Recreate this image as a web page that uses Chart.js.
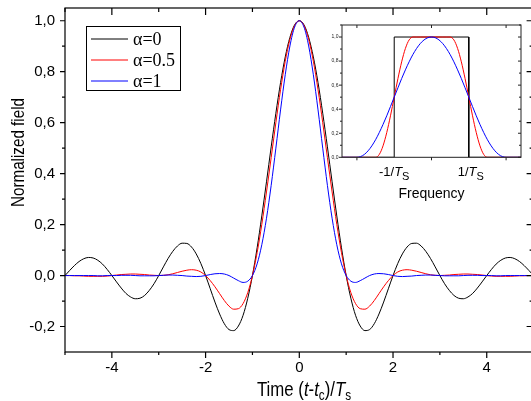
<!DOCTYPE html>
<html>
<head>
<meta charset="utf-8">
<script src="https://cdn.jsdelivr.net/npm/chart.js@4.4.0/dist/chart.umd.min.js"></script>
<style>
html, body { margin: 0; padding: 0; background: #fff; overflow: hidden; width: 531px; height: 401px; }
#wrap { position: relative; width: 531px; height: 401px; overflow: hidden; }
#main { position: absolute; left: 0; top: 0; }
#inset { position: absolute; left: 320px; top: 10px; }
</style>
</head>
<body>
<div id="wrap">
  <canvas id="main" width="545" height="401"></canvas>
  <canvas id="inset" width="211" height="195"></canvas>
</div>
<script>
// time axis (t-tc)/Ts
var times = [-5.0,-4.9,-4.8,-4.7,-4.6,-4.5,-4.4,-4.3,-4.2,-4.1,
  -4.0,-3.9,-3.8,-3.7,-3.6,-3.5,-3.4,-3.3,-3.2,-3.1,
  -3.0,-2.9,-2.8,-2.7,-2.6,-2.5,-2.4,-2.3,-2.2,-2.1,
  -2.0,-1.9,-1.8,-1.7,-1.6,-1.5,-1.4,-1.3,-1.2,-1.1,
  -1.0,-0.9,-0.8,-0.7,-0.6,-0.5,-0.4,-0.3,-0.2,-0.1,
  0.0,
  0.1,0.2,0.3,0.4,0.5,0.6,0.7,0.8,0.9,1.0,
  1.1,1.2,1.3,1.4,1.5,1.6,1.7,1.8,1.9,2.0,
  2.1,2.2,2.3,2.4,2.5,2.6,2.7,2.8,2.9,3.0,
  3.1,3.2,3.3,3.4,3.5,3.6,3.7,3.8,3.9,4.0,
  4.1,4.2,4.3,4.4,4.5,4.6,4.7,4.8,4.9,5.0];

var field0 = [0.000,0.020,0.039,0.055,0.066,0.071,0.069,0.060,0.045,0.024,
  0.000,-0.025,-0.049,-0.070,-0.084,-0.091,-0.089,-0.078,-0.058,-0.032,
  0.000,0.034,0.067,0.095,0.116,0.127,0.126,0.112,0.085,0.047,
  0.000,-0.052,-0.104,-0.151,-0.189,-0.212,-0.216,-0.198,-0.156,-0.089,
  0.000,0.109,0.234,0.368,0.505,0.637,0.757,0.858,0.935,0.984,
  1.000,
  0.984,0.935,0.858,0.757,0.637,0.505,0.368,0.234,0.109,0.000,
  -0.089,-0.156,-0.198,-0.216,-0.212,-0.189,-0.151,-0.104,-0.052,0.000,
  0.047,0.085,0.112,0.126,0.127,0.116,0.095,0.067,0.034,0.000,
  -0.032,-0.058,-0.078,-0.089,-0.091,-0.084,-0.070,-0.049,-0.025,0.000,
  0.024,0.045,0.060,0.069,0.071,0.066,0.055,0.039,0.020,0.000];

var field05 = [0.000,0.000,-0.001,-0.001,-0.002,-0.003,-0.003,-0.003,-0.003,-0.002,
  0.000,0.002,0.004,0.005,0.006,0.006,0.005,0.004,0.002,0.001,
  0.000,0.001,0.003,0.007,0.012,0.017,0.021,0.023,0.021,0.014,
  0.000,-0.020,-0.044,-0.071,-0.098,-0.120,-0.132,-0.130,-0.110,-0.067,
  0.000,0.090,0.201,0.328,0.463,0.600,0.729,0.841,0.927,0.981,
  1.000,
  0.981,0.927,0.841,0.729,0.600,0.463,0.328,0.201,0.090,0.000,
  -0.067,-0.110,-0.130,-0.132,-0.120,-0.098,-0.071,-0.044,-0.020,0.000,
  0.014,0.021,0.023,0.021,0.017,0.012,0.007,0.003,0.001,0.000,
  0.001,0.002,0.004,0.005,0.006,0.006,0.005,0.004,0.002,0.000,
  -0.002,-0.003,-0.003,-0.003,-0.003,-0.002,-0.001,-0.001,0.000,0.000];

var field1 = [0.000,0.000,0.000,0.000,0.000,0.000,0.000,-0.001,-0.001,0.000,
  0.000,0.000,0.001,0.001,0.001,0.000,-0.001,-0.001,-0.001,-0.001,
  0.000,0.001,0.002,0.002,0.001,0.000,-0.002,-0.003,-0.004,-0.003,
  0.000,0.004,0.007,0.008,0.006,0.000,-0.010,-0.020,-0.027,-0.022,
  0.000,0.046,0.121,0.225,0.354,0.500,0.650,0.788,0.901,0.975,
  1.000,
  0.975,0.901,0.788,0.650,0.500,0.354,0.225,0.121,0.046,0.000,
  -0.022,-0.027,-0.020,-0.010,0.000,0.006,0.008,0.007,0.004,0.000,
  -0.003,-0.004,-0.003,-0.002,0.000,0.001,0.002,0.002,0.001,0.000,
  -0.001,-0.001,-0.001,-0.001,0.000,0.001,0.001,0.001,0.000,0.000,
  0.000,-0.001,-0.001,0.000,0.000,0.000,0.000,0.000,0.000,0.000];

// inset: spectrum, frequency in units of 1/Ts
var freq = [-2.4,-2.3,-2.2,-2.1,-2.0,-1.9,-1.8,-1.7,-1.6,-1.5,-1.4,-1.3,-1.2,-1.1,-1.0,
  -0.9,-0.8,-0.7,-0.6,-0.5,-0.4,-0.3,-0.2,-0.1,0.0,0.1,0.2,0.3,0.4,0.5,0.6,0.7,0.8,0.9,
  1.0,1.1,1.2,1.3,1.4,1.5,1.6,1.7,1.8,1.9,2.0,2.1,2.2,2.3,2.4];
var spec05 = [0,0,0,0,0,0,0,0,0,0,0.024,0.095,0.206,0.345,0.500,
  0.655,0.794,0.905,0.976,1,1,1,1,1,1,1,1,1,1,1,0.976,0.905,0.794,0.655,
  0.500,0.345,0.206,0.095,0.024,0,0,0,0,0,0,0,0,0,0];
var spec1 = [0,0,0,0,0,0.006,0.024,0.054,0.095,0.146,0.206,0.273,0.345,0.422,0.500,
  0.578,0.655,0.727,0.794,0.854,0.905,0.946,0.976,0.994,1,0.994,0.976,0.946,0.905,0.854,0.794,0.727,0.655,0.578,
  0.500,0.422,0.345,0.273,0.206,0.146,0.095,0.054,0.024,0.006,0,0,0,0,0];
var rectF = [-2.4,-1,-1,1,1,2.4];
var rectS = [0,0,1,1,0,0];

var labels = ['\u03b1=0', '\u03b1=0.5', '\u03b1=1'];
var colors = ['#000000', '#ff0000', '#0000ff'];

function pts(xs, ys) {
  var out = [];
  for (var i = 0; i < xs.length; i++) out.push({x: xs[i], y: ys[i]});
  return out;
}

var SANS = '"Liberation Sans", Arial, sans-serif';
var SERIF = '"Liberation Serif", "Times New Roman", serif';

function drawRich(ctx, parts, cx, y) {
  var w = 0;
  parts.forEach(function(p){ ctx.font = p[1]; w += ctx.measureText(p[0]).width; });
  var x = cx - w / 2;
  ctx.textAlign = 'left';
  ctx.textBaseline = 'alphabetic';
  parts.forEach(function(p){
    ctx.font = p[1];
    ctx.fillText(p[0], x, y + (p[2] || 0));
    x += ctx.measureText(p[0]).width;
  });
}

function isTenth(v) { return Math.abs(v * 10 - Math.round(v * 10)) < 0.001; }

function noPad(s) {
  s.paddingTop = 0; s.paddingBottom = 0; s.paddingLeft = 0; s.paddingRight = 0;
}

var mainDecor = {
  id: 'mainDecor',
  afterDraw: function(chart) {
    var ctx = chart.ctx, a = chart.chartArea, sx = chart.scales.x, sy = chart.scales.y;
    ctx.save();
    ctx.strokeStyle = '#000';
    ctx.lineWidth = 1.2;
    ctx.strokeRect(a.left, a.top, a.right - a.left, a.bottom - a.top);
    ctx.beginPath();
    sx.ticks.forEach(function(t){
      var x = sx.getPixelForValue(t.value);
      var major = Math.round(t.value) % 2 === 0;
      ctx.moveTo(x, a.bottom); ctx.lineTo(x, a.bottom + (major ? 6 : 3));
      ctx.moveTo(x, a.top); ctx.lineTo(x, a.top + (major ? 7 : 4));
    });
    sy.ticks.forEach(function(t){
      if (!isTenth(t.value)) return;
      var y = sy.getPixelForValue(t.value);
      var major = Math.round(t.value * 10) % 2 === 0;
      ctx.moveTo(a.left, y); ctx.lineTo(a.left - (major ? 5 : 3), y);
      ctx.moveTo(a.right, y); ctx.lineTo(a.right - (major ? 7 : 4), y);
    });
    ctx.stroke();

    // axis titles (tall, narrow lettering as in the original)
    ctx.fillStyle = '#000';
    var F = '20px ' + SANS, FI = 'italic 20px ' + SANS, FS = '14px ' + SANS;
    ctx.save();
    ctx.translate(304, 396);
    ctx.scale(0.84, 1);
    drawRich(ctx, [['Time (', F], ['t', FI], ['-', F], ['t', FI], ['c', FS, 4], [')/', F], ['T', FI], ['s', FS, 4]], 0, 0);
    ctx.restore();
    ctx.save();
    ctx.translate(24, 152.5);
    ctx.rotate(-Math.PI / 2);
    ctx.scale(0.845, 1);
    ctx.font = '18px ' + SANS;
    ctx.textAlign = 'center';
    ctx.textBaseline = 'alphabetic';
    ctx.fillText('Normalized field', 0, 0);
    ctx.restore();

    // legend box
    ctx.lineWidth = 1;
    ctx.strokeStyle = '#000';
    ctx.strokeRect(86.5, 26.5, 94, 64);
    ctx.font = '18px ' + SERIF;
    ctx.textAlign = 'left';
    ctx.textBaseline = 'alphabetic';
    chart.data.datasets.forEach(function(ds, i){
      var y = 39 + i * 21;
      ctx.strokeStyle = ds.borderColor;
      ctx.beginPath(); ctx.moveTo(91, y); ctx.lineTo(128, y); ctx.stroke();
      ctx.fillText(ds.label, 133, y + 6);
    });
    ctx.restore();
  }
};

new Chart(document.getElementById('main'), {
  type: 'line',
  data: {
    datasets: [
      {label: labels[0], data: pts(times, field0), borderColor: colors[0], order: 3},
      {label: labels[1], data: pts(times, field05), borderColor: colors[1], order: 2},
      {label: labels[2], data: pts(times, field1), borderColor: colors[2], order: 1}
    ]
  },
  options: {
    responsive: false,
    animation: false,
    layout: {padding: {top: 8, right: 11.4, left: 0, bottom: 0}},
    plugins: {legend: {display: false}, tooltip: {enabled: false}},
    elements: {point: {radius: 0}, line: {borderWidth: 1, cubicInterpolationMode: 'monotone', fill: false}},
    scales: {
      x: {
        type: 'linear', min: -5, max: 5,
        grid: {display: false, drawTicks: false}, border: {display: false},
        ticks: {stepSize: 1, autoSkip: false, maxRotation: 0, padding: 7, color: '#000',
          font: {family: SANS, size: 15},
          callback: function(v){ return Math.round(v) % 2 === 0 ? String(Math.round(v)) : ''; }},
        afterFit: function(s){ s.height = 49; noPad(s); }
      },
      y: {
        min: -0.3, max: 1.05,
        grid: {display: false, drawTicks: false}, border: {display: false},
        ticks: {stepSize: 0.1, includeBounds: false, autoSkip: false, padding: 10, color: '#000',
          font: {family: SANS, size: 15},
          callback: function(v){
            if (!isTenth(v)) return '';
            var k = Math.round(v * 10);
            if (k % 2 !== 0) return '';
            return (k / 10).toFixed(1).replace('.', ',');
          }},
        afterFit: function(s){ s.width = 65; noPad(s); }
      }
    }
  },
  plugins: [mainDecor]
});

var insetDecor = {
  id: 'insetDecor',
  beforeDraw: function(chart) {
    var ctx = chart.ctx, a = chart.chartArea;
    ctx.save();
    ctx.fillStyle = '#fff';
    ctx.fillRect(a.left, a.top, a.right - a.left, a.bottom - a.top);
    ctx.restore();
  },
  afterDraw: function(chart) {
    var ctx = chart.ctx, a = chart.chartArea, sx = chart.scales.x, sy = chart.scales.y;
    ctx.save();
    ctx.strokeStyle = '#222';
    ctx.lineWidth = 1;
    ctx.strokeRect(a.left, a.top, a.right - a.left, a.bottom - a.top);
    ctx.beginPath();
    [-2, 0, 2].forEach(function(v){
      var x = sx.getPixelForValue(v);
      ctx.moveTo(x, a.bottom); ctx.lineTo(x, a.bottom + 3);
      ctx.moveTo(x, a.top); ctx.lineTo(x, a.top + 3);
    });
    for (var k = 0; k <= 11; k++) {
      var y = sy.getPixelForValue(k / 10);
      var len = k % 2 === 0 ? 3 : 2;
      ctx.moveTo(a.left, y); ctx.lineTo(a.left - len, y);
      ctx.moveTo(a.right, y); ctx.lineTo(a.right - len, y);
    }
    ctx.stroke();
    ctx.fillStyle = '#222';
    ctx.font = '5px ' + SANS;
    ctx.textAlign = 'right';
    ctx.textBaseline = 'middle';
    for (var j = 0; j <= 10; j += 2) {
      ctx.fillText((j / 10).toFixed(1).replace('.', ','), a.left - 3.5, sy.getPixelForValue(j / 10));
    }
    ctx.fillStyle = '#000';
    var F = '13px ' + SANS, FI = 'italic 13px ' + SANS, FS = '11px ' + SANS;
    drawRich(ctx, [['-1/', F], ['T', FI], ['S', FS, 4]], sx.getPixelForValue(-1), 166);
    drawRich(ctx, [['1/', F], ['T', FI], ['S', FS, 4]], sx.getPixelForValue(1) + 2, 166);
    ctx.font = '14px ' + SANS;
    ctx.textAlign = 'center';
    ctx.textBaseline = 'alphabetic';
    ctx.fillText('Frequency', sx.getPixelForValue(0), 188);
    ctx.restore();
  }
};

new Chart(document.getElementById('inset'), {
  type: 'line',
  data: {
    datasets: [
      {label: labels[0], data: pts(rectF, rectS), borderColor: colors[0], order: 3, cubicInterpolationMode: 'default', tension: 0},
      {label: labels[1], data: pts(freq, spec05), borderColor: colors[1], order: 2},
      {label: labels[2], data: pts(freq, spec1), borderColor: colors[2], order: 1}
    ]
  },
  options: {
    responsive: false,
    animation: false,
    layout: {padding: {left: 22, top: 15, right: 10, bottom: 47.7}},
    plugins: {legend: {display: false}, tooltip: {enabled: false}},
    elements: {point: {radius: 0}, line: {borderWidth: 1, cubicInterpolationMode: 'monotone', fill: false}},
    scales: {
      x: {type: 'linear', min: -2.4, max: 2.4, display: false},
      y: {min: 0, max: 1.1, display: false}
    }
  },
  plugins: [insetDecor]
});
</script>
</body>
</html>
